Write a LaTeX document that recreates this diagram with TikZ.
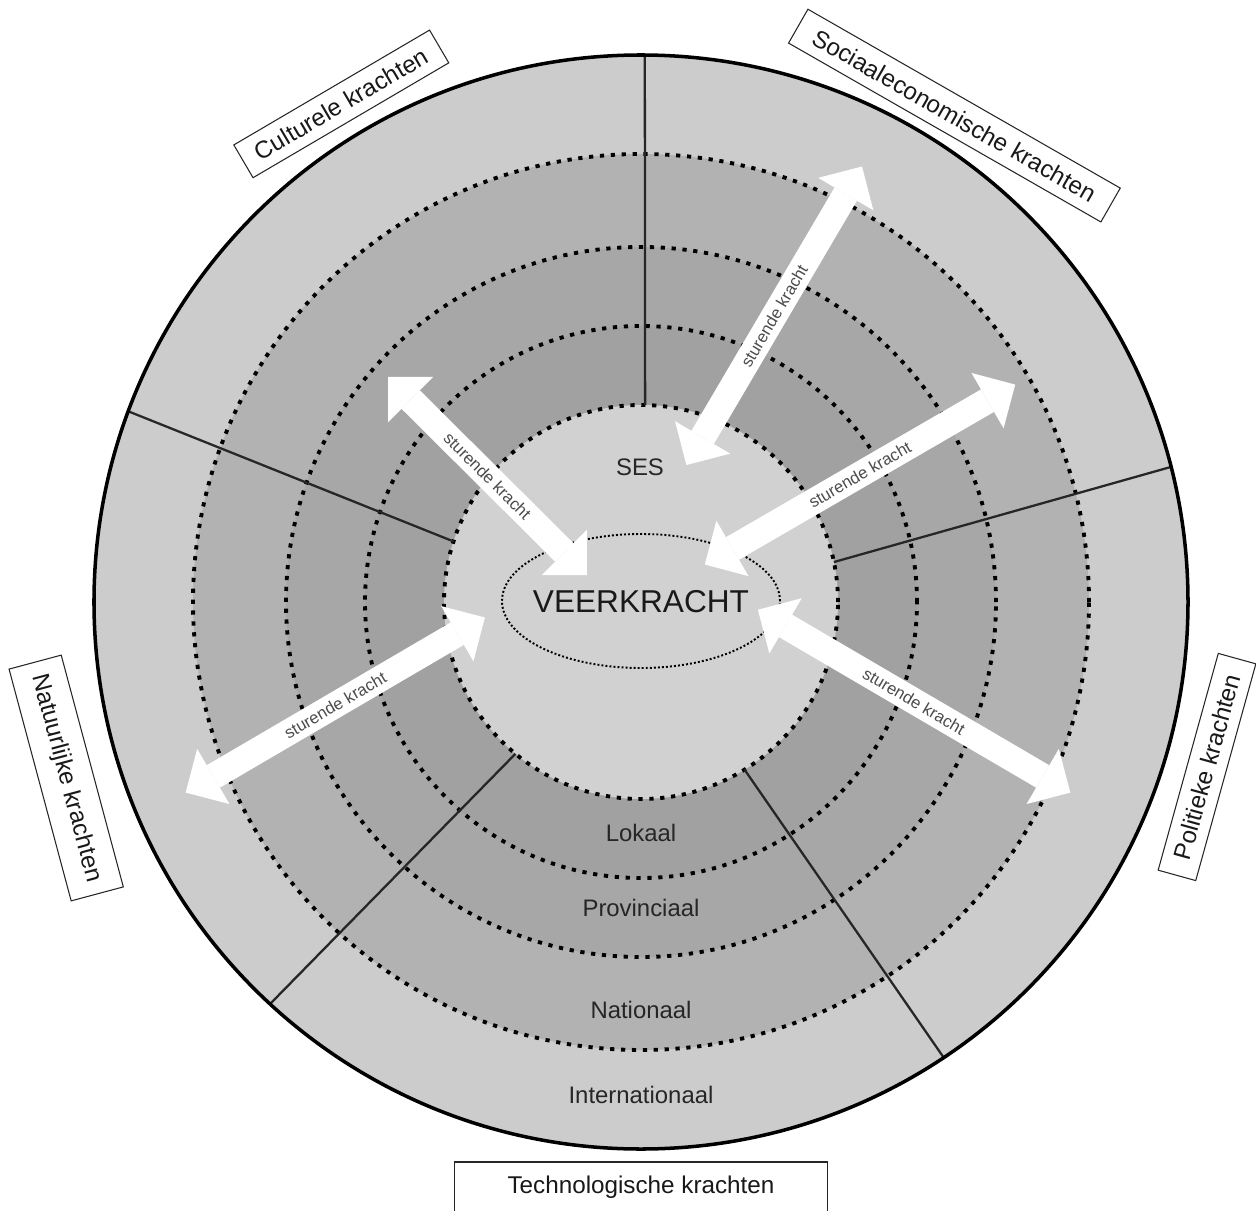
\documentclass[tikz,border=0pt]{standalone}
\usepackage{fontspec}
\setmainfont{Liberation Sans}
\usetikzlibrary{arrows.meta}

\definecolor{buiten}{gray}{0.80}
\definecolor{natring}{gray}{0.70}
\definecolor{provring}{gray}{0.655}
\definecolor{lokring}{gray}{0.63}
\definecolor{kern}{gray}{0.82}

\tikzstyle{kader}=[draw=black!85,fill=white,line width=0.6pt,inner sep=0pt,text=black!90,font=\fontsize{13.8}{16}\selectfont]
\tikzstyle{niveau}=[text=black!85,font=\fontsize{13.6}{16}\selectfont]
\tikzstyle{stip}=[line width=2.2pt,dash pattern=on 2.4pt off 3.8pt]
\tikzstyle{grens}=[draw=black!85,line width=1.3pt]
\tikzstyle{kracht}=[draw=white,line width=0.52cm,{Triangle[width=1.28cm,length=0.64cm,line width=0pt]}-{Triangle[width=1.28cm,length=0.64cm,line width=0pt]}]
\tikzstyle{sk}=[text=black!70,font=\fontsize{9.5}{11}\selectfont,sloped,inner sep=0pt]

\begin{document}
\begin{tikzpicture}[x=0.02cm,y=0.02cm,semithick,inner sep=1pt]
\useasboundingbox (-641,-608) rectangle (615,602);
%\draw[help lines,step=100] (-600,-600) grid (600,600);
\fill[buiten]   (0,0) circle[radius=547];
\fill[natring]  (0,0) circle[radius=448];
\fill[provring] (0,0) circle[radius=355];
\fill[lokring]  (0,0) circle[radius=276];
\fill[kern]     (0,0) circle[radius=197];
\draw[stip] (0,0) circle[radius=448];
\draw[stip] (0,0) circle[radius=355];
\draw[stip] (0,0) circle[radius=276];
\draw[stip] (0,0) circle[radius=197];
\draw[grens] (88.8:197)  -- (89.6:547);
\draw[grens] (11.7:197)  -- (14.3:547);
\draw[grens] (162.1:197) -- (159.6:547);
\draw[grens] (230.4:197) -- (227.3:547);
\draw[grens] (301.7:197) -- (303.6:547);
\draw[line width=2pt] (0,0) circle[radius=547];
\draw[line width=1.1pt,dash pattern=on 1.1pt off 1.2pt] (0,1) ellipse[x radius=139,y radius=67];

\node[text=black!90,font=\fontsize{18}{21}\selectfont] (veer) at (0,0) {VEERKRACHT};
\node[niveau] (ses)    at (-1,135)  {SES};
\node[niveau] (lokaal) at (0,-231)  {Lokaal};
\node[niveau] (prov)   at (0,-306)  {Provinciaal};
\node[niveau] (nat)    at (0,-408)  {Nationaal};
\node[niveau] (inter)  at (0,-493)  {Internationaal};

\coordinate (c1) at (-253,225);   \coordinate (v1) at (-54,27);
\coordinate (c2) at (221,435.5);  \coordinate (v2) at (45.4,137);
\coordinate (c3) at (374.2,217.4);\coordinate (v3) at (63.8,37.5);
\coordinate (c4) at (429.3,-190.6);\coordinate (v4) at (116.9,-7.7);
\coordinate (c5) at (-455.3,-190.6);\coordinate (v5) at (-156.1,-15.5);
\path
(c1) edge[kracht] node[sk] {sturende kracht} (v1)
(v2) edge[kracht] node[sk] {sturende kracht} (c2)
(v3) edge[kracht] node[sk] {sturende kracht} (c3)
(v4) edge[kracht] node[sk] {sturende kracht} (c4)
(c5) edge[kracht] node[sk] {sturende kracht} (v5);

\node[kader,rotate=30.4,minimum width=4.54cm,minimum height=0.76cm] (cultuur) at (-299.7,498.1) {Culturele krachten};
\node[kader,rotate=-29.8,minimum width=7.2cm,minimum height=0.78cm] (socio) at (313.4,486.4) {Sociaaleconomische krachten};
\node[kader,rotate=-75,minimum width=4.8cm,minimum height=1.08cm] (natuur) at (-574.8,-176) {Natuurlijke krachten};
\node[kader,rotate=74.5,minimum width=4.5cm,minimum height=0.78cm] (politiek) at (566,-165) {Politieke krachten};
\node[kader,minimum width=7.48cm,minimum height=1.0cm] (techno) at (0,-585) {Technologische krachten};
\end{tikzpicture}
\end{document}
